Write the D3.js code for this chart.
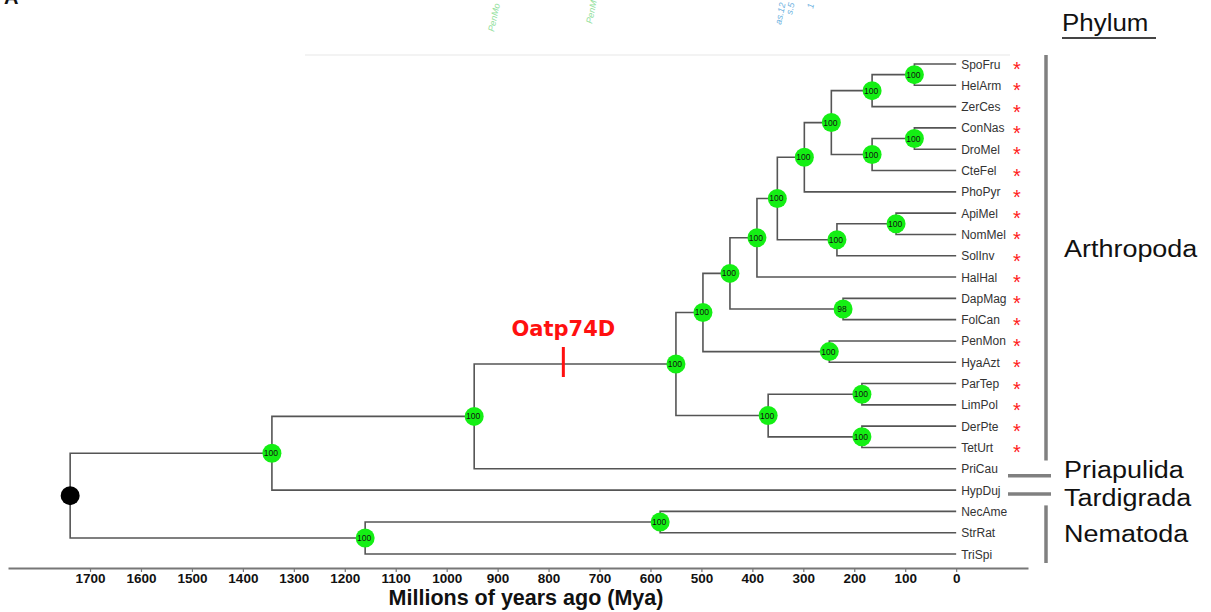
<!DOCTYPE html>
<html>
<head>
<meta charset="utf-8">
<script src="https://cdn.jsdelivr.net/npm/d3@7"></script>
<style>
  body { margin: 0; background: #fff; }
  svg { display: block; }
</style>
</head>
<body>
<svg id="chart" width="1211" height="612"></svg>
<script>
// ---- tree data -------------------------------------------------------------
const tips = ["SpoFru","HelArm","ZerCes","ConNas","DroMel","CteFel","PhoPyr",
  "ApiMel","NomMel","SolInv","HalHal","DapMag","FolCan","PenMon","HyaAzt",
  "ParTep","LimPol","DerPte","TetUrt","PriCau","HypDuj","NecAme","StrRat","TriSpi"];

const markedTips = ["SpoFru","HelArm","ZerCes","ConNas","DroMel","CteFel","PhoPyr",
  "ApiMel","NomMel","SolInv","HalHal","DapMag","FolCan","PenMon","HyaAzt",
  "ParTep","LimPol","DerPte","TetUrt"];

const cladeIds = ["Noctuidae","Lepidoptera","Diptera","Antliophora","Mecopterida",
  "HoloCore","Apidae","Hymenoptera","Holometabola","Insecta","DapFol","Allotriocarida",
  "Malacostraca","Pancrustacea","ParLim","Acari","Chelicerata","Arthropoda",
  "ArthPri","Panarthropoda","NecStr","Nematoda","Ecdysozoa"];

const cladeChildren = [
  ["SpoFru","HelArm"], ["Noctuidae","ZerCes"], ["ConNas","DroMel"], ["Diptera","CteFel"],
  ["Lepidoptera","Antliophora"], ["Mecopterida","PhoPyr"], ["ApiMel","NomMel"],
  ["Apidae","SolInv"], ["HoloCore","Hymenoptera"], ["Holometabola","HalHal"],
  ["DapMag","FolCan"], ["Insecta","DapFol"], ["PenMon","HyaAzt"],
  ["Allotriocarida","Malacostraca"], ["ParTep","LimPol"], ["DerPte","TetUrt"],
  ["ParLim","Acari"], ["Pancrustacea","Chelicerata"], ["Arthropoda","PriCau"],
  ["ArthPri","HypDuj"], ["NecAme","StrRat"], ["NecStr","TriSpi"],
  ["Panarthropoda","Nematoda"]
];

// divergence times (Mya)
const cladeAges = [82, 165, 82, 165, 245, 298, 118, 234, 351, 391, 222, 444,
  249, 497, 185, 185, 369, 550, 946, 1343, 581, 1160, 1739];

// bootstrap support (null = root)
const cladeSupport = [100, 100, 100, 100, 100, 100, 100, 100, 100, 100, 98, 100,
  100, 100, 100, 100, 100, 100, 100, 100, 100, 100, null];

const axisTicks = [1700,1600,1500,1400,1300,1200,1100,1000,900,800,700,600,500,400,300,200,100,0];

const phyla = ["Arthropoda","Priapulida","Tardigrada","Nematoda"];
const phylumFirst = ["SpoFru","PriCau","HypDuj","NecAme"];
const phylumLast  = ["TetUrt","PriCau","HypDuj","TriSpi"];

const transferLabel = "Oatp74D";
const transferAge = 771;

// faint labels left over along the top edge
const topGhostLabels = ["PenMo", "PenM", "as.12", "s.5", "1"];
const topGhostColors = ["#8fe09a", "#8fe09a", "#6ab0e0", "#6ab0e0", "#6ab0e0"];

// ---- scales ----------------------------------------------------------------
const svg = d3.select("#chart");
const x = d3.scaleLinear().domain([1861, -141]).range([8, 1028]);
const y = d3.scalePoint().domain(tips).range([64, 554]);

// ---- build hierarchy -------------------------------------------------------
const parentOf = {};
cladeIds.forEach((id, i) => cladeChildren[i].forEach(c => { parentOf[c] = id; }));
const ageOf = {}, supportOf = {};
tips.forEach(t => { ageOf[t] = 0; });
cladeIds.forEach((id, i) => { ageOf[id] = cladeAges[i]; supportOf[id] = cladeSupport[i]; });

const table = tips.concat(cladeIds).map(id => ({ id, parent: parentOf[id] || null }));
const root = d3.stratify().id(d => d.id).parentId(d => d.parent)(table);

root.eachAfter(n => {
  n.px = x(ageOf[n.id]);
  if (!n.children) {
    n.py = y(n.id);
  } else {
    const ys = n.children.map(c => c.py);
    n.py = (d3.min(ys) + d3.max(ys)) / 2;
  }
});

// ---- faint header remnants -------------------------------------------------
svg.append("text").attr("x", 4).attr("y", 4)
  .attr("font-family", "Liberation Sans, Arial, sans-serif")
  .attr("font-weight", "bold").attr("font-size", 20).attr("fill", "#111").text("A");

const ghostPos = [[494, 32], [592, 24], [781, 25], [792, 15], [813, 9]];
svg.append("g").selectAll("text").data(topGhostLabels).join("text")
  .attr("transform", (d, i) => `translate(${ghostPos[i][0]},${ghostPos[i][1]}) rotate(-78)`)
  .attr("font-family", "Liberation Sans, Arial, sans-serif")
  .attr("font-size", 9).attr("font-style", "italic")
  .attr("fill", (d, i) => topGhostColors[i]).text(d => d);

svg.append("line").attr("x1", 305).attr("x2", 1010).attr("y1", 55).attr("y2", 55)
  .attr("stroke", "#f3f3f3").attr("stroke-width", 2);

// ---- branches --------------------------------------------------------------
svg.append("g").attr("fill", "none").attr("stroke", "#555").attr("stroke-width", 1.6)
  .selectAll("path").data(root.links()).join("path")
  .attr("d", l => `M${l.source.px},${l.source.py}V${l.target.py}H${l.target.px}`);

// ---- gene origin marker ----------------------------------------------------
const arth = root.descendants().find(n => n.id === "Arthropoda");
svg.append("line")
  .attr("x1", x(transferAge)).attr("x2", x(transferAge))
  .attr("y1", arth.py - 17).attr("y2", arth.py + 13)
  .attr("stroke", "#ff1010").attr("stroke-width", 3);
svg.append("text")
  .attr("x", x(transferAge)).attr("y", arth.py - 28)
  .attr("text-anchor", "middle")
  .attr("font-family", "DejaVu Sans, sans-serif").attr("font-weight", "bold")
  .attr("font-size", 21).attr("fill", "#ff1010").text(transferLabel);

// ---- nodes -----------------------------------------------------------------
const internal = root.descendants().filter(n => n.children);
const ng = svg.append("g");
ng.selectAll("circle").data(internal).join("circle")
  .attr("cx", n => n.px).attr("cy", n => n.py).attr("r", 9.5)
  .attr("fill", n => supportOf[n.id] == null ? "#000" : "#14ef14");
ng.selectAll("text").data(internal.filter(n => supportOf[n.id] != null)).join("text")
  .attr("x", n => n.px - 1).attr("y", n => n.py + 3)
  .attr("text-anchor", "middle")
  .attr("font-family", "Liberation Sans, Arial, sans-serif")
  .attr("font-size", 8.5).attr("fill", "#111")
  .text(n => supportOf[n.id]);

// ---- tip labels & markers --------------------------------------------------
svg.append("g").selectAll("text").data(tips).join("text")
  .attr("x", x(0) + 5).attr("y", d => y(d) + 4.5)
  .attr("font-family", "Liberation Sans, Arial, sans-serif")
  .attr("font-size", 12).attr("fill", "#333").text(d => d);

svg.append("g").selectAll("text").data(markedTips).join("text")
  .attr("x", 1017).attr("y", d => y(d) + 12)
  .attr("text-anchor", "middle")
  .attr("font-family", "Liberation Sans, Arial, sans-serif")
  .attr("font-size", 20).attr("fill", "#ff2020").text("*");

// ---- phylum brackets -------------------------------------------------------
const phylumFont = "Liberation Sans, Arial, sans-serif";
svg.append("text").attr("transform", "translate(1062,31) scale(1.08,1)")
  .attr("font-family", phylumFont).attr("font-size", 24)
  .attr("fill", "#111").text("Phylum");
svg.append("line").attr("x1", 1062).attr("x2", 1156).attr("y1", 38).attr("y2", 38)
  .attr("stroke", "#444").attr("stroke-width", 2);

const labelNudge = { Arthropoda: -8, Tardigrada: 7 };
const barShift = { Priapulida: 7, Tardigrada: 4 };
phyla.forEach((p, i) => {
  const y0 = y(phylumFirst[i]), y1 = y(phylumLast[i]);
  const g = svg.append("g");
  if (y0 === y1) {
    g.append("line").attr("x1", 1008).attr("x2", 1051)
      .attr("y1", y0 + barShift[p]).attr("y2", y0 + barShift[p])
      .attr("stroke", "#808080").attr("stroke-width", 3.5);
  } else {
    g.append("line").attr("x1", 1046).attr("x2", 1046)
      .attr("y1", y0 - (p === "Arthropoda" ? 9 : 6)).attr("y2", y1 + (p === "Arthropoda" ? 13 : 9))
      .attr("stroke", "#808080").attr("stroke-width", 3.5);
  }
  const ly = (y0 + y1) / 2 + (labelNudge[p] || 0);
  g.append("text").attr("transform", `translate(1064,${ly}) scale(1.1,1)`)
    .attr("dy", "0.36em")
    .attr("font-family", phylumFont).attr("font-size", 24.5)
    .attr("fill", "#111").text(p);
});

// ---- time axis -------------------------------------------------------------
const axisG = svg.append("g").attr("transform", "translate(0,568)")
  .call(d3.axisBottom(x).tickValues(axisTicks).tickFormat(d3.format("d"))
    .tickSize(4).tickSizeOuter(0).tickPadding(1));
axisG.select(".domain").attr("stroke", "#777").attr("stroke-width", 2);
axisG.selectAll(".tick line").attr("stroke", "#777").attr("stroke-width", 1.2);
axisG.selectAll(".tick text")
  .attr("font-family", "Liberation Sans, Arial, sans-serif")
  .attr("font-weight", "bold").attr("font-size", 13.5).attr("fill", "#111");

svg.append("text").attr("x", 526).attr("y", 605).attr("text-anchor", "middle")
  .attr("font-family", "Liberation Sans, Arial, sans-serif")
  .attr("font-weight", "bold").attr("font-size", 21.5).attr("fill", "#111")
  .text("Millions of years ago (Mya)");
</script>
</body>
</html>
